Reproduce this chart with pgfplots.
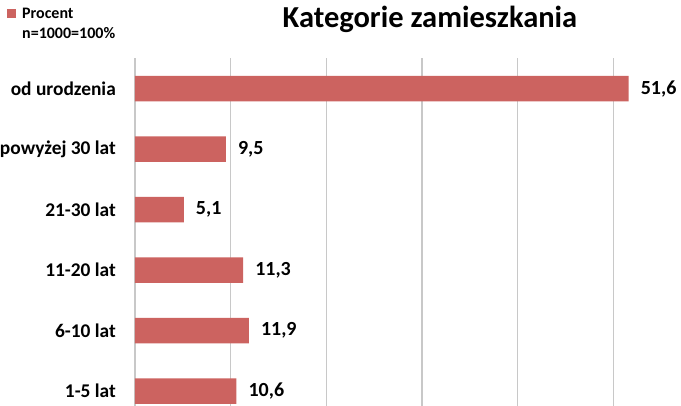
\documentclass[border=0pt]{standalone}
\usepackage{pgfplots}
\pgfplotsset{compat=1.18}
\usepackage{fontspec}
\setmainfont{Carlito}
\definecolor{barred}{RGB}{204,99,96}
\definecolor{gridgray}{RGB}{200,200,200}
\begin{document}
\begin{tikzpicture}
\useasboundingbox (0pt,0pt) rectangle (681pt,406pt);
\clip (0pt,0pt) rectangle (681pt,406pt);
\node[font=\fontsize{30.5}{35}\selectfont\bfseries, anchor=base] at (430pt,378pt) {Kategorie zamieszkania};
\begin{axis}[
  at={(135pt,-15.5pt)}, anchor=south west,
  scale only axis, width=574pt, height=363pt,
  xmin=0, xmax=60, ymin=-0.5, ymax=5.5,
  axis lines*=left,
  axis line style={draw=gridgray, line width=1.5pt},
  xtick={10,20,30,40,50}, xticklabels={},
  x tick style={draw=none},
  xmajorgrids, major x grid style={draw=gridgray, line width=1.5pt},
  ytick={0,1,2,3,4,5},
  yticklabels={1-5 lat, 6-10 lat, 11-20 lat, 21-30 lat, powyżej 30 lat, od urodzenia},
  y tick style={draw=none},
  major tick length=0pt,
  yticklabel style={font=\fontsize{19.4}{23}\selectfont\bfseries, anchor=east, inner sep=0pt, xshift=-19pt},
  extra y ticks={0.5,1.5,2.5,3.5,4.5,5.5},
  extra y tick labels={},
  extra y tick style={grid=none, major tick length=5pt, tick align=outside, tick style={draw=gridgray, line width=1.5pt}},
  point meta=x,
  nodes near coords,
  nodes near coords style={font=\fontsize{20}{24}\selectfont\bfseries, anchor=west, inner sep=0pt, xshift=12pt},
  /pgf/number format/.cd, use comma, fixed, fixed zerofill, precision=1, assume math mode=true,
  /pgfplots/.cd,
  legend style={at={(-0.223,1.146)}, anchor=north west, draw=none, fill=none,
    font=\fontsize{16}{19}\selectfont\bfseries, inner sep=0pt, row sep=4pt, column sep=4pt,
    cells={anchor=west}},
  legend image code/.code={\fill[barred] (0pt,-4.5pt) rectangle (9pt,4.5pt);},
]
\addplot[xbar, bar width=25.5pt, fill=barred, draw=none] coordinates {(10.6,0) (11.9,1) (11.3,2) (5.1,3) (9.5,4) (51.6,5)};
\addlegendentry{Procent}
\addlegendimage{empty legend}
\addlegendentry{n=1000=100\%}
\end{axis}
\end{tikzpicture}
\end{document}
